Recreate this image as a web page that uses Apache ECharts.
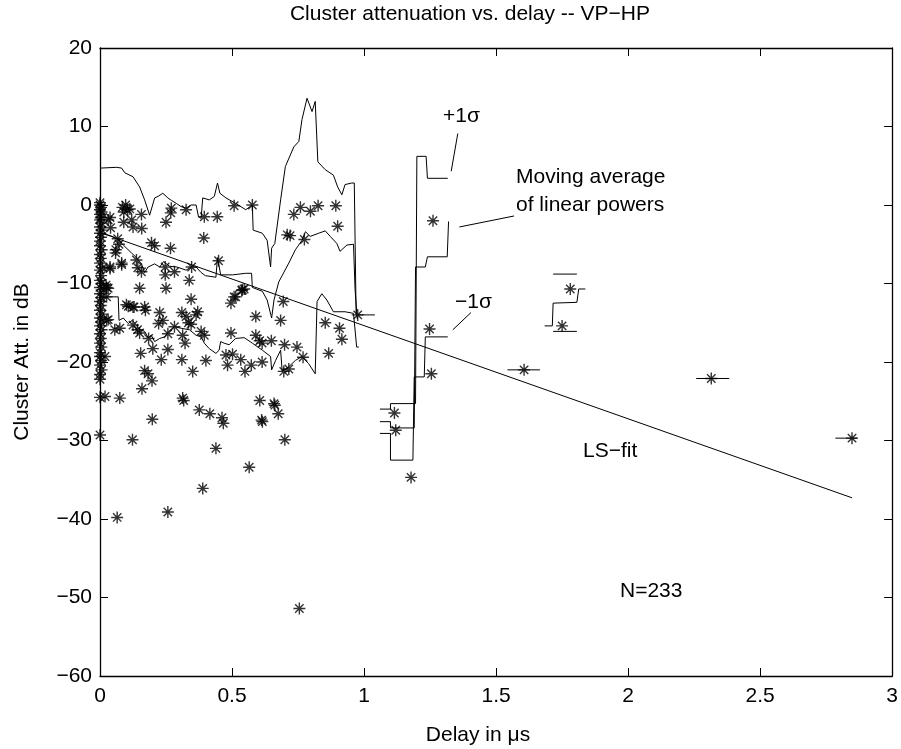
<!DOCTYPE html>
<html>
<head>
<meta charset="utf-8">
<script src="https://cdn.jsdelivr.net/npm/echarts@6/dist/echarts.min.js"></script>
<style>html,body{margin:0;padding:0;background:#fff}#c{width:901px;height:749px}</style>
</head>
<body>
<div id="c"></div>
<script>
// ---------- DATA ----------
const xTicks = [0, 0.5, 1, 1.5, 2, 2.5, 3];
const yTicks = [-60, -50, -40, -30, -20, -10, 0, 10, 20];

// clusters observed at (almost) zero delay
const pointsAtZero = [
 [0,0.3],[0,0],[0.004,-0.3],[0,-0.6],[0.006,-0.9],[0,-1.2],[0.003,-1.6],[0,-1.9],[0.005,-2.3],[0,-2.8],
 [0.008,-3.2],[0,-3.6],[0.004,-4.1],[0,-4.6],[0,-5.2],[0.006,-5.7],[0,-6.3],[0.003,-6.8],[0,-7.4],[0.01,-8.0],
 [0,-8.3],[0.004,-9.0],[0,-9.6],[0.006,-10.0],[0,-10.5],[0.012,-10.8],[0,-11.3],[0.005,-11.8],[0,-12.3],[0.003,-12.8],
 [0,-13.4],[0.008,-13.9],[0,-14.4],[0.004,-14.9],[0,-15.4],[0.006,-15.9],[0,-16.4],[0.003,-17.0],[0,-17.6],[0.005,-18.1],
 [0,-18.8],[0,-19.3],[0.004,-19.8],[0,-20.4],[0.006,-21.0],[0,-21.6],[0,-22.2],[0,-24.5],[0,-29.3]
];
// clusters with delay below 1 us
const pointsEarly = [
 [0.085,-0.3],[0.097,0.0],[0.105,-0.6],[0.09,-0.9],[0.113,-0.5],[0.157,-1.2],[0.038,-1.6],[0.04,-2.9],[0.09,-2.2],[0.12,-1.9],
 [0.125,-2.8],[0.158,-3.0],[0.25,-2.2],[0.27,-0.4],[0.268,-1.0],[0.326,-0.6],[0.395,-1.5],[0.444,-1.5],[0.508,-0.1],[0.577,0.0],
 [0.734,-1.2],[0.759,-0.3],[0.797,-0.8],[0.826,-0.1],[0.893,-0.1],[0.90,-2.7],[0.031,-1.9],
 [0.709,-3.8],[0.72,-3.9],[0.774,-4.4],[0.393,-4.2],[0.067,-4.3],[0.072,-5.0],[0.059,-6.1],[0.195,-4.8],[0.207,-5.2],
 [0.267,-5.5],[0.06,-5.7],[0.082,-7.6],[0.038,-7.9],[0.138,-7.0],[0.143,-8.0],[0.157,-8.5],[0.247,-7.9],[0.247,-8.9],[0.282,-8.5],
 [0.347,-7.9],[0.338,-9.6],[0.449,-7.1],[0.082,-7.4],[0.038,-8.1],
 [0.025,-10.5],[0.15,-10.6],[0.25,-10.6],[0.345,-12.0],[0.508,-11.7],[0.496,-12.5],[0.514,-11.7],[0.537,-10.9],[0.546,-10.7],
 [0.539,-10.8],[0.694,-12.3],[0.023,-10.2],[0.031,-10.6],[0.025,-11.7],[0.1,-12.7],[0.125,-13.0],
 [0.107,-12.9],[0.129,-13.0],[0.169,-13.0],[0.172,-13.4],[0.226,-13.7],[0.238,-14.7],[0.222,-15.1],[0.31,-13.7],[0.326,-14.2],
 [0.37,-13.6],[0.364,-14.0],[0.335,-15.0],[0.345,-15.2],[0.025,-14.7],[0.056,-15.9],[0.075,-15.7],[0.125,-15.3],[0.142,-15.9],
 [0.15,-16.3],[0.282,-15.5],[0.257,-16.4],[0.313,-16.6],[0.322,-17.6],[0.383,-16.1],[0.395,-16.6],[0.184,-17.0],[0.496,-16.3],
 [0.59,-14.2],[0.684,-14.7],[0.853,-15.0],[0.907,-15.7],[0.916,-17.1],[0.976,-14.0],[0.031,-14.6],
 [0.2,-18.3],[0.257,-18.4],[0.154,-18.9],[0.232,-19.7],[0.31,-19.7],[0.401,-19.8],[0.477,-19.1],[0.483,-20.4],[0.59,-16.6],
 [0.605,-17.3],[0.614,-17.6],[0.649,-17.3],[0.699,-17.8],[0.746,-18.1],[0.502,-19.0],[0.533,-19.7],[0.573,-20.4],[0.614,-20.0],
 [0.549,-21.2],[0.769,-19.4],[0.696,-21.2],[0.715,-20.9],[0.866,-18.9],[0.019,-19.3],
 [0.169,-21.1],[0.182,-21.5],[0.197,-22.4],[0.351,-21.2],[0.159,-23.4],[0.019,-24.4],[0.075,-24.6],[0.313,-24.6],[0.317,-24.9],
 [0.198,-27.3],[0.123,-29.9],[0.376,-26.1],[0.416,-26.6],[0.462,-27.1],[0.467,-27.8],[0.605,-24.9],[0.659,-25.3],[0.662,-25.5],
 [0.675,-26.6],[0.612,-27.4],[0.615,-27.6],[0.70,-29.9],[0.439,-31.0],[0.565,-33.4],[0.389,-36.1],[0.065,-39.8],[0.257,-39.1],
 [0.755,-51.4]
];
// clusters with delay above 1 us
const pointsLate = [
 [1.115,-26.5],[1.12,-28.7],[1.178,-34.7],[1.248,-15.8],[1.255,-21.5],[1.261,-2.0],
 [1.75,-15.4],[1.781,-10.7],[1.606,-21.0],[2.315,-22.1],[2.848,-29.7]
];

// moving average of linear powers and +/- 1 sigma, first group
const upperA = [
 [0,4.7],[0.063,4.8],[0.082,4.7],[0.094,4.1],[0.125,3.6],[0.15,2.3],[0.169,0.65],[0.188,-1.3],[0.207,0.9],[0.22,1.1],
 [0.238,1.5],[0.257,0.9],[0.27,0.6],[0.289,0.2],[0.307,-0.2],[0.326,-0.4],[0.345,0],[0.364,0],[0.373,-1.5],[0.383,-1.7],
 [0.389,0.9],[0.414,0.65],[0.433,1.1],[0.445,2.8],[0.454,1.5],[0.477,0.9],[0.514,0.2],[0.552,-0.6],[0.577,0],[0.58,-3.2],
 [0.615,-3.6],[0.633,-4.5],[0.646,-7.9],[0.65,-5.5],[0.662,-4.9],[0.684,0.65],[0.702,4.9],[0.734,7.4],[0.753,8.1],[0.765,10.9],
 [0.784,13.6],[0.803,11.9],[0.815,13.2],[0.825,5.5],[0.853,4.5],[0.884,3.8],[0.90,2.3],[0.916,1.3],[0.928,2.6],[0.953,2.8],
 [0.963,2.8],[0.97,-14.0]
];
const meanA = [
 [0,-3.6],[0.04,-3.9],[0.069,-4.4],[0.088,-5.1],[0.119,-6.1],[0.138,-6.7],[0.157,-7.5],[0.169,-8.6],[0.182,-7.9],[0.207,-7.5],
 [0.226,-7.9],[0.241,-7.2],[0.263,-7.8],[0.291,-7.9],[0.326,-8.3],[0.345,-7.9],[0.364,-7.9],[0.383,-8.6],[0.399,-9.0],[0.439,-9.2],
 [0.445,-6.7],[0.457,-8.9],[0.502,-8.9],[0.552,-8.7],[0.574,-8.7],[0.577,-10.5],[0.615,-11.0],[0.633,-12.1],[0.65,-14.4],[0.659,-12.1],
 [0.677,-9.8],[0.715,-7.4],[0.74,-5.7],[0.765,-4.5],[0.778,-3.4],[0.796,-4.0],[0.828,-3.6],[0.853,-3.3],[0.872,-4.0],[0.897,-4.9],
 [0.909,-5.9],[0.935,-5.1],[0.96,-5.0],[0.966,-10.8],[0.974,-14.5]
];
const lowerA = [
 [0,-11.7],[0.069,-11.7],[0.072,-14.7],[0.088,-14.4],[0.107,-15.1],[0.122,-14.7],[0.138,-15.3],[0.15,-15.9],[0.169,-16.1],[0.182,-16.9],
 [0.194,-16.6],[0.207,-17.4],[0.226,-17.0],[0.245,-16.8],[0.26,-16.1],[0.282,-15.5],[0.307,-15.7],[0.339,-15.9],[0.364,-16.6],[0.383,-16.8],
 [0.395,-17.6],[0.414,-18.3],[0.439,-18.9],[0.451,-18.5],[0.457,-17.4],[0.47,-17.6],[0.489,-17.8],[0.514,-17.0],[0.546,-16.9],[0.577,-17.6],
 [0.615,-18.5],[0.646,-19.3],[0.65,-21.0],[0.665,-19.8],[0.684,-18.5],[0.69,-21.2],[0.715,-20.6],[0.74,-19.8],[0.765,-19.3],[0.79,-20.2],
 [0.815,-21.5],[0.822,-12.3],[0.84,-11.3],[0.859,-12.1],[0.884,-13.6],[0.928,-13.6],[0.96,-13.8],[0.972,-18.1],[0.98,-18.1]
];
// second group (1.06 - 1.32 us)
const upperB = [[1.06,-26.0],[1.10,-26.0],[1.10,-25.3],[1.195,-25.3],[1.20,6.2],[1.235,6.2],[1.24,3.4],[1.317,3.4]];
const meanB  = [[1.06,-27.6],[1.10,-27.6],[1.10,-28.4],[1.19,-28.4],[1.195,-7.9],[1.232,-7.9],[1.24,-6.6],[1.315,-6.6],[1.32,-2.1]];
const lowerB = [[1.06,-29.1],[1.10,-29.1],[1.10,-32.5],[1.185,-32.5],[1.19,-21.9],[1.228,-21.9],[1.232,-16.8],[1.317,-16.8]];
// third group (1.68 - 1.84 us)
const upperC = [[1.716,-8.8],[1.806,-8.8]];
const meanC  = [[1.684,-15.4],[1.713,-15.4],[1.716,-12.5],[1.806,-12.4],[1.813,-10.7],[1.838,-10.7]];
const lowerC = [[1.716,-16.1],[1.806,-16.1]];
// single-cluster windows
const singleWindows = [
 [[0.975,-14.0],[1.041,-14.0]],
 [[1.543,-21.0],[1.666,-21.0]],
 [[2.258,-22.1],[2.383,-22.1]],
 [[2.785,-29.7],[2.867,-29.7]]
];
// least-squares fit end points
const lsFit = [[0,-3.5],[2.848,-37.3]];
// annotation leader lines
const leaders = [
 [[1.355,9.1],[1.330,4.3]],
 [[1.568,-1.4],[1.361,-2.8]],
 [[1.405,-13.7],[1.336,-15.9]]
];

// ---------- CHART ----------
const FONT = '"Liberation Sans", Arial, Helvetica, sans-serif';
const chart = echarts.init(document.getElementById('c'), null, {renderer: 'canvas'});
const star = 'path://M5,0L5,10M0,5L10,5M1.5,1.5L8.5,8.5M1.5,8.5L8.5,1.5';
function lineSeries(data, w) {
  return {type: 'line', data: data, showSymbol: false, symbol: 'none', silent: true,
          lineStyle: {color: '#000', width: w || 1}, animation: false, z: 3};
}
const minus = v => String(v).replace('-', '\u2212');
const axisLineStyle = {onZero: false, lineStyle: {color: '#000', width: 1.3}};
const tick = {inside: true, length: 8, lineStyle: {color: '#000', width: 1}};
const series = [];
[pointsAtZero, pointsEarly, pointsLate].forEach(p => series.push({
  type: 'scatter', data: p, symbol: star, symbolSize: 12, animation: false, silent: true,
  itemStyle: {color: 'rgba(0,0,0,0)', borderColor: '#000', borderWidth: 1.4}, z: 4
}));
[upperA, meanA, lowerA, upperB, meanB, lowerB, upperC, meanC, lowerC].forEach(d => series.push(lineSeries(d)));
singleWindows.forEach(d => series.push(lineSeries(d)));
series.push(lineSeries(lsFit));
leaders.forEach(d => series.push(lineSeries(d)));

const txt = (text, x, y, align, extra) => Object.assign({
  type: 'text', x: x, y: y, silent: true,
  style: {text: text, font: '21px ' + FONT, fill: '#000', textAlign: align || 'left', textVerticalAlign: 'middle'}
}, extra || {});

chart.setOption({
  animation: false,
  backgroundColor: '#fff',
  grid: {left: 100, right: 4, top: 48, bottom: 73, containLabel: false},
  xAxis: [
    {type: 'value', min: 0, max: 3, interval: 0.5, position: 'bottom',
     axisLine: axisLineStyle, splitLine: {show: false}, axisTick: tick,
     axisLabel: {color: '#000', fontSize: 21, fontFamily: FONT, margin: 10, showMaxLabel: true}},
    {type: 'value', min: 0, max: 3, interval: 0.5, position: 'top',
     axisLine: axisLineStyle, splitLine: {show: false}, axisTick: tick,
     axisLabel: {show: false}}
  ],
  yAxis: [
    {type: 'value', min: -60, max: 20, interval: 10, position: 'left',
     axisLine: axisLineStyle, splitLine: {show: false}, axisTick: tick,
     axisLabel: {color: '#000', fontSize: 21, fontFamily: FONT, margin: 8, formatter: minus}},
    {type: 'value', min: -60, max: 20, interval: 10, position: 'right',
     axisLine: axisLineStyle, splitLine: {show: false}, axisTick: tick,
     axisLabel: {show: false}}
  ],
  series: series,
  graphic: [
    txt('Cluster attenuation vs. delay -- VP\u2212HP', 470, 14, 'center'),
    txt('Delay in \u03bcs', 478, 735, 'center'),
    txt('Cluster Att. in dB', 22, 362, 'center', {rotation: Math.PI / 2}),
    txt('+1\u03c3', 443, 116),
    txt('Moving average', 516, 177),
    txt('of linear powers', 516, 205),
    txt('\u22121\u03c3', 455, 302),
    txt('LS\u2212fit', 583, 451),
    txt('N=233', 620, 591)
  ]
});
</script>
</body>
</html>
